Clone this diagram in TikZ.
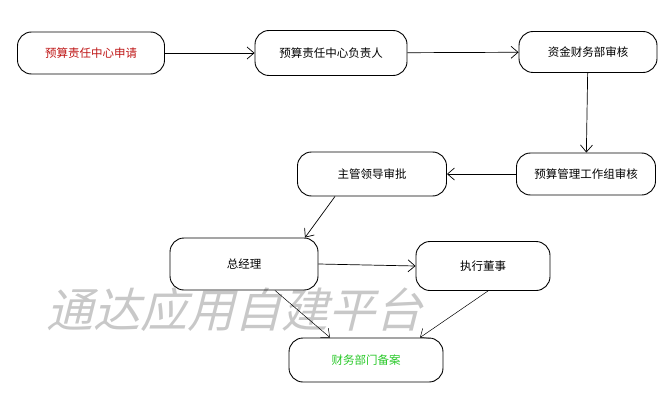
\documentclass[tikz,border=0pt]{standalone}
\usepackage{fontspec}
\setmainfont{Noto Sans CJK SC}
\newfontfamily\wmfont[FakeSlant=0.25]{Noto Sans CJK SC}
\usetikzlibrary{arrows.meta}
\definecolor{startred}{RGB}{190,20,20}
\definecolor{endgreen}{RGB}{40,200,40}
\definecolor{markgray}{RGB}{200,200,200}
\begin{document}
\begin{tikzpicture}[x=1pt,y=-1pt]
        \tikzstyle{state} = [rectangle, rounded corners=14pt, minimum width=148pt, minimum height=44pt, text centered, draw=black, line width=0.9pt, font=\fontsize{11.5}{14}\selectfont]
        \tikzstyle{arrow} = [line width=0.7pt,-{Straight Barb[length=7pt,width=12pt]}]
        \useasboundingbox (0,0) rectangle (668,409);

        % watermark
        \node (mark) [text=markgray, font=\wmfont\fontsize{47}{52}\selectfont] at (234,310) {通达应用自建平台};

        \node (apply) [state, text=startred, minimum width=147pt, minimum height=42pt] at (91,53) {预算责任中心申请};
        \node (head) [state, minimum width=152pt, minimum height=45pt] at (331,53) {预算责任中心负责人};
        \node (fund) [state, minimum width=138pt, minimum height=41pt] at (588,52) {资金财务部审核};
        \node (group) [state, minimum width=139pt, minimum height=42pt] at (586,174) {预算管理工作组审核};
        \node (leader) [state, minimum width=149pt, minimum height=44pt] at (372,174) {主管领导审批};
        \node (gm) [state, minimum width=148pt, minimum height=52pt] at (244,264) {总经理};
        \node (exec) [state, minimum width=134pt, minimum height=49pt] at (483,266) {执行董事};
        \node (file) [state, text=endgreen, minimum width=154pt, minimum height=44pt] at (366,360) {财务部门备案};

        \draw [arrow] (apply) -- (head);
        \draw [arrow] (head) -- (fund);
        \draw [arrow] (fund) -- (group);
        \draw [arrow] (group) -- (leader);
        \draw [arrow] ([xshift=-37pt]leader.south) -- ([xshift=61pt]gm.north);
        \draw [arrow] (gm.east) -- (exec.west);
        \draw [arrow, line width=0.5pt] ([xshift=31pt]gm.south) -- ([xshift=-36pt]file.north);
        \draw [arrow, line width=0.5pt] ([xshift=5pt]exec.south) -- ([xshift=54pt]file.north);
    \end{tikzpicture}
\end{document}
